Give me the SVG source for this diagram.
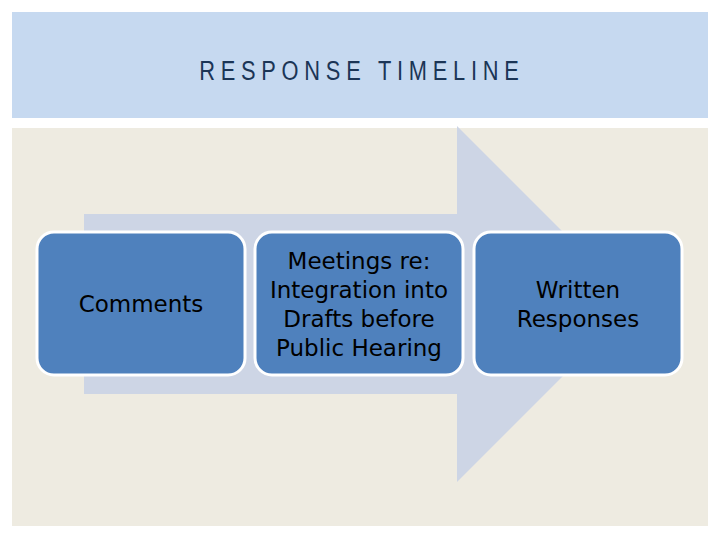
<svg xmlns="http://www.w3.org/2000/svg" width="720" height="540" viewBox="0 0 720 540">
<style>
.box{fill:#4f81bd;stroke:#ffffff;stroke-width:3}
.lbl{font-family:"DejaVu Sans",sans-serif;font-size:23px;fill:#000000;text-anchor:middle}
.title{font-family:"Liberation Sans",sans-serif;font-size:28px;fill:#1b3556;text-anchor:middle}
</style>
<rect width="720" height="540" fill="#ffffff"/>
<rect x="12" y="12" width="696" height="106" fill="#c6d9f0"/>
<text class="title" transform="scale(0.78,1)" x="460.3" y="80" textLength="410" lengthAdjust="spacing">RESPONSE TIMELINE</text>
<rect x="12" y="128" width="696" height="398" fill="#eeebe1"/>
<g id="connectors">
<polygon points="84,214 457,214 457,126 635,304 457,482 457,394 84,394" fill="#cdd5e5"/>
</g>
<g id="node1">
<rect class="box" x="37" y="232" width="208" height="143" rx="17"/>
<text class="lbl" x="141" y="312">Comments</text>
</g>
<g id="node2">
<rect class="box" x="255" y="232" width="208" height="143" rx="17"/>
<text class="lbl" x="359" y="269">Meetings re:</text>
<text class="lbl" x="359" y="298">Integration into</text>
<text class="lbl" x="359" y="327">Drafts before</text>
<text class="lbl" x="359" y="356">Public Hearing</text>
</g>
<g id="node3">
<rect class="box" x="474" y="232" width="208" height="143" rx="17"/>
<text class="lbl" x="578" y="298">Written</text>
<text class="lbl" x="578" y="327">Responses</text>
</g>
</svg>
